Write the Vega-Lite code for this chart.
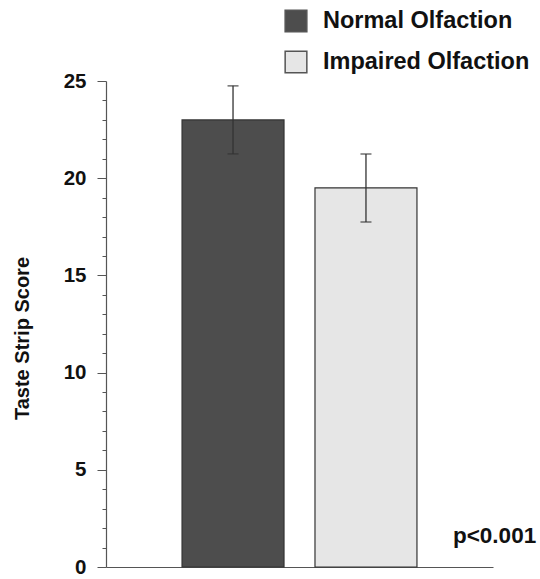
{
  "$schema": "https://vega.github.io/schema/vega-lite/v6.json",
  "width": 387,
  "height": 486,
  "autosize": {"type": "none"},
  "padding": {"left": 106, "top": 81, "right": 47, "bottom": 12},
  "config": {"font": "Liberation Sans", "view": {"stroke": null}},
  "data": {
    "values": [
      {"group": "Normal Olfaction", "score": 23, "lo": 21.25, "hi": 24.75},
      {"group": "Impaired Olfaction", "score": 19.5, "lo": 17.75, "hi": 21.25}
    ]
  },
  "encoding": {
    "x": {
      "field": "group",
      "type": "nominal",
      "sort": ["Normal Olfaction", "Impaired Olfaction"],
      "scale": {"paddingInner": 0.233, "paddingOuter": 0.572},
      "axis": {"labels": false, "ticks": false, "title": null, "domainColor": "#555", "domainWidth": 1.2}
    }
  },
  "layer": [
    {
      "mark": {"type": "bar", "stroke": "#333", "strokeWidth": 1.2},
      "encoding": {
        "y": {
          "field": "score",
          "type": "quantitative",
          "scale": {"domain": [0, 25], "nice": false},
          "axis": {
            "title": "Taste Strip Score",
            "values": [0,1,2,3,4,5,6,7,8,9,10,11,12,13,14,15,16,17,18,19,20,21,22,23,24,25],
            "labelExpr": "datum.value % 5 === 0 ? datum.label : ''",
            "labelOverlap": false,
            "tickSize": {"condition": {"test": "datum.value % 5 === 0", "value": 9}, "value": 4},
            "tickColor": "#555",
            "domainColor": "#555",
            "domainWidth": 1.2,
            "labelFontWeight": "bold",
            "labelFontSize": 20.5,
            "labelColor": "#111",
            "labelPadding": 11,
            "grid": false,
            "titleFontSize": 20,
            "titleFontWeight": "bold",
            "titleColor": "#111",
            "titlePadding": 31,
            "titleY": 257
          }
        },
        "color": {
          "field": "group",
          "type": "nominal",
          "sort": ["Normal Olfaction", "Impaired Olfaction"],
          "scale": {"range": ["#4d4d4d", "#e6e6e6"]},
          "legend": {
            "title": null,
            "orient": "none",
            "legendX": 178,
            "legendY": -72,
            "symbolType": "square",
            "symbolSize": 470,
            "symbolStrokeColor": "#555",
            "symbolStrokeWidth": 1.5,
            "labelFontSize": 23.5,
            "labelFontWeight": "bold",
            "labelColor": "#111",
            "labelLimit": 400,
            "labelOffset": 15,
            "rowPadding": 13,
            "padding": 0
          }
        }
      }
    },
    {
      "mark": {"type": "rule", "color": "#333", "strokeWidth": 1.3},
      "encoding": {
        "y": {
          "field": "lo",
          "type": "quantitative",
          "axis": {
            "title": "Taste Strip Score",
            "values": [0,1,2,3,4,5,6,7,8,9,10,11,12,13,14,15,16,17,18,19,20,21,22,23,24,25],
            "labelExpr": "datum.value % 5 === 0 ? datum.label : ''",
            "labelOverlap": false,
            "tickSize": {"condition": {"test": "datum.value % 5 === 0", "value": 9}, "value": 4},
            "tickColor": "#555",
            "domainColor": "#555",
            "domainWidth": 1.2,
            "labelFontWeight": "bold",
            "labelFontSize": 20.5,
            "labelColor": "#111",
            "labelPadding": 11,
            "grid": false,
            "titleFontSize": 20,
            "titleFontWeight": "bold",
            "titleColor": "#111",
            "titlePadding": 31,
            "titleY": 257
          }
        },
        "y2": {"field": "hi"}
      }
    },
    {
      "mark": {"type": "tick", "color": "#333", "size": 11, "thickness": 1.5},
      "encoding": {
        "y": {
          "field": "lo",
          "type": "quantitative",
          "axis": {
            "title": "Taste Strip Score",
            "values": [0,1,2,3,4,5,6,7,8,9,10,11,12,13,14,15,16,17,18,19,20,21,22,23,24,25],
            "labelExpr": "datum.value % 5 === 0 ? datum.label : ''",
            "labelOverlap": false,
            "tickSize": {"condition": {"test": "datum.value % 5 === 0", "value": 9}, "value": 4},
            "tickColor": "#555",
            "domainColor": "#555",
            "domainWidth": 1.2,
            "labelFontWeight": "bold",
            "labelFontSize": 20.5,
            "labelColor": "#111",
            "labelPadding": 11,
            "grid": false,
            "titleFontSize": 20,
            "titleFontWeight": "bold",
            "titleColor": "#111",
            "titlePadding": 31,
            "titleY": 257
          }
        }
      }
    },
    {
      "mark": {"type": "tick", "color": "#333", "size": 11, "thickness": 1.5},
      "encoding": {
        "y": {
          "field": "hi",
          "type": "quantitative",
          "axis": {
            "title": "Taste Strip Score",
            "values": [0,1,2,3,4,5,6,7,8,9,10,11,12,13,14,15,16,17,18,19,20,21,22,23,24,25],
            "labelExpr": "datum.value % 5 === 0 ? datum.label : ''",
            "labelOverlap": false,
            "tickSize": {"condition": {"test": "datum.value % 5 === 0", "value": 9}, "value": 4},
            "tickColor": "#555",
            "domainColor": "#555",
            "domainWidth": 1.2,
            "labelFontWeight": "bold",
            "labelFontSize": 20.5,
            "labelColor": "#111",
            "labelPadding": 11,
            "grid": false,
            "titleFontSize": 20,
            "titleFontWeight": "bold",
            "titleColor": "#111",
            "titlePadding": 31,
            "titleY": 257
          }
        }
      }
    },
    {
      "data": {"values": [{"label": "p<0.001"}]},
      "mark": {"type": "text", "align": "left", "baseline": "alphabetic", "dx": 87, "fontSize": 22.5, "fontWeight": "bold", "color": "#111"},
      "encoding": {
        "x": {"datum": "Impaired Olfaction"},
        "y": {
          "datum": 1.25,
          "axis": {
            "title": "Taste Strip Score",
            "values": [0,1,2,3,4,5,6,7,8,9,10,11,12,13,14,15,16,17,18,19,20,21,22,23,24,25],
            "labelExpr": "datum.value % 5 === 0 ? datum.label : ''",
            "labelOverlap": false,
            "tickSize": {"condition": {"test": "datum.value % 5 === 0", "value": 9}, "value": 4},
            "tickColor": "#555",
            "domainColor": "#555",
            "domainWidth": 1.2,
            "labelFontWeight": "bold",
            "labelFontSize": 20.5,
            "labelColor": "#111",
            "labelPadding": 11,
            "grid": false,
            "titleFontSize": 20,
            "titleFontWeight": "bold",
            "titleColor": "#111",
            "titlePadding": 31,
            "titleY": 257
          }
        },
        "text": {"field": "label"}
      }
    }
  ]
}
